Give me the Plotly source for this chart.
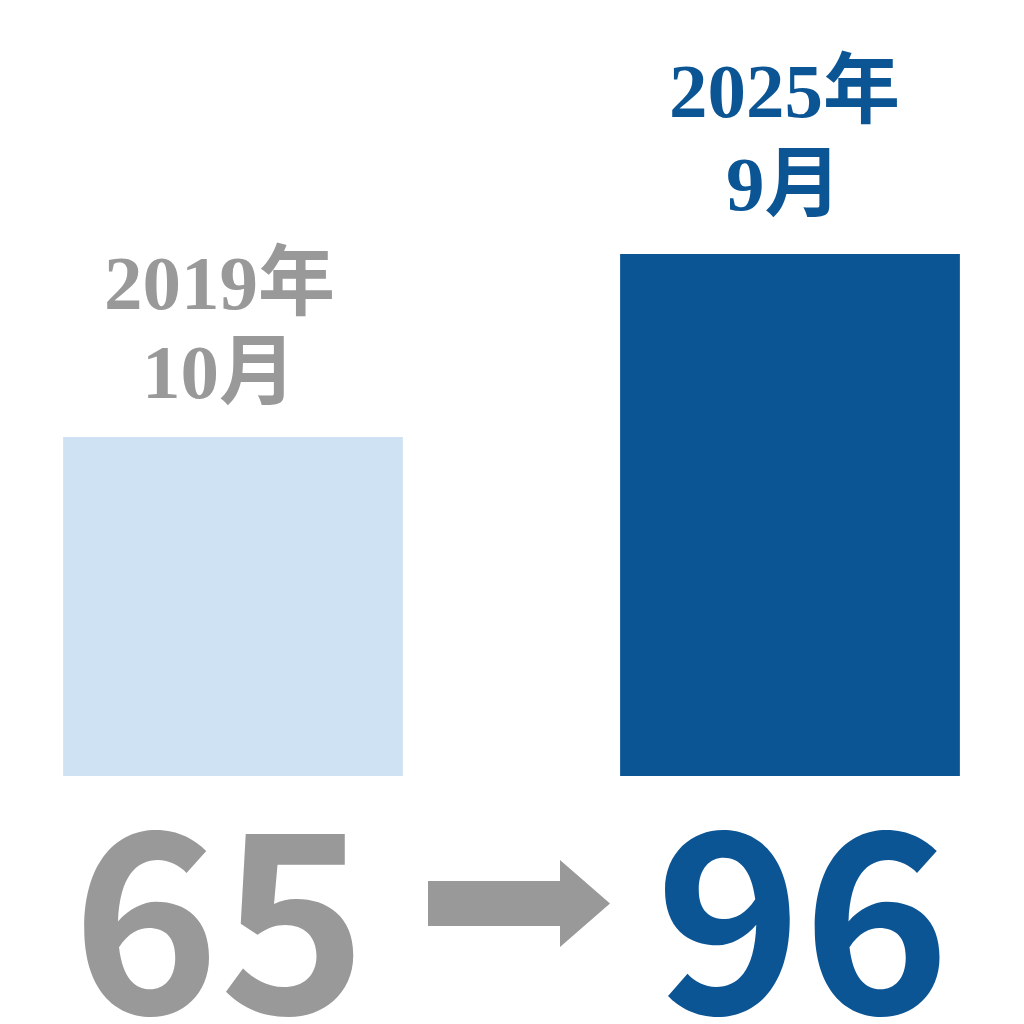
import plotly.graph_objects as go

categories = ["2019年10月", "2025年9月"]
values = [65, 96]
label_line1 = ["2019年", "2025年"]
label_line2 = ["10月", "9月"]
bar_colors = ["#cfe2f3", "#0c5595"]
text_colors = ["#999999", "#0c5595"]

W = H = 1024
def px(x):
    return x / W
def py(y):
    return (H - y) / H

fig = go.Figure()
fig.add_trace(go.Bar(
    x=[0, 1], y=values, width=0.61,
    marker=dict(color=bar_colors, line=dict(width=0)),
    hoverinfo="skip", showlegend=False,
))

# year labels above bars
line1_y = [283, 91]
line2_y = [372, 184]
label_x = [-0.025, -0.01]
for i in range(2):
    for txt, yy in ((label_line1[i], line1_y[i]), (label_line2[i], line2_y[i])):
        fig.add_annotation(x=i + label_x[i], xref="x", y=py(yy), yref="paper",
                           text=f"<b>{txt}</b>", showarrow=False,
                           font=dict(family="Liberation Serif, Noto Sans CJK SC", size=77, color=text_colors[i]),
                           xanchor="center", yanchor="middle")

# big values below
num_x = [-0.025, 0.022]
for i in range(2):
    fig.add_annotation(x=i + num_x[i], xref="x", y=py(905), yref="paper",
                       text=f"{values[i]}", showarrow=False,
                       font=dict(family="Noto Sans CJK SC", size=250, weight=600, color=text_colors[i]),
                       xanchor="center", yanchor="middle")

# arrow
pts = [(428, 881), (560, 881), (560, 860), (610, 903.5), (560, 947), (560, 926), (428, 926)]
path = "M " + " L ".join(f"{px(x)},{py(y)}" for x, y in pts) + " Z"
fig.add_shape(type="path", xref="paper", yref="paper", path=path,
              fillcolor="#999999", line=dict(width=0))

fig.update_layout(
    width=W, height=H,
    margin=dict(l=0, r=0, t=0, b=0),
    paper_bgcolor="white", plot_bgcolor="white",
    xaxis=dict(range=[-0.4183, 1.4201], visible=False, fixedrange=True),
    yaxis=dict(range=[7.57, 139.03], domain=[248 / 1024, 1], visible=False, fixedrange=True),
)

fig.write_html("out.html", config={"displayModeBar": False},
               post_script="document.body.style.margin='0px';")
